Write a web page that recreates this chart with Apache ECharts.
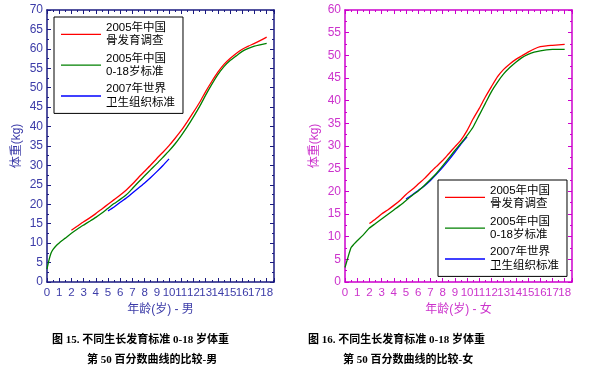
<!DOCTYPE html>
<html>
<head>
<meta charset="utf-8">
<script src="https://cdn.jsdelivr.net/npm/echarts@6/dist/echarts.min.js"></script>
<style>html,body{margin:0;padding:0;background:#fff;}#c{width:606px;height:373px;}</style>
</head>
<body>
<div id="c"></div>
<script>
// ---- Data ----
const seriesNames = ['2005年中国\n骨发育调查', '2005年中国\n0-18岁标准', '2007年世界\n卫生组织标准'];
const xTicks = [0,1,2,3,4,5,6,7,8,9,10,11,12,13,14,15,16,17,18];

// Boys
const boyStdAges = [0,0.167,0.333,0.5,0.75,1,1.25,1.5,1.75,2,2.5,3,3.5,4,4.5,5,5.5,6,6.5,7,7.5,8,8.5,9,9.5,10,10.5,11,11.5,12,12.5,13,13.5,14,14.5,15,15.5,16,16.5,17,18];
const boyStdVals = [3.32,5.68,7.45,8.41,9.33,10.05,10.68,11.29,11.93,12.54,13.64,14.65,15.63,16.64,17.75,18.98,20.18,21.26,22.45,24.06,25.72,27.33,28.91,30.46,32.09,33.74,35.58,37.69,39.98,42.49,45.13,48.08,50.85,53.37,55.43,56.98,58.19,59.35,60.12,60.68,61.40];
const boyBoneAges = [2,2.5,3,3.5,4,4.5,5,5.5,6,6.5,7,7.5,8,8.5,9,9.5,10,10.5,11,11.5,12,12.5,13,13.5,14,14.5,15,15.5,16,16.5,17,17.5,18];
const boyBoneVals = [13.3,14.4,15.5,16.5,17.6,18.8,20.0,21.2,22.4,23.7,25.2,26.9,28.5,30.1,31.8,33.4,35.1,37.0,39.0,41.3,43.7,46.2,49.0,51.6,54.0,56.0,57.5,58.8,59.9,60.7,61.4,62.2,63.0];
const boyWhoAges = [5,5.5,6,6.5,7,7.5,8,8.5,9,9.5,10];
const boyWhoVals = [18.3,19.3,20.5,21.6,22.9,24.2,25.5,26.9,28.4,30.0,31.7];

// Girls
const girlStdAges = [0,0.25,0.5,0.75,1,1.5,2,2.5,3,3.5,4,4.5,5,5.5,6,6.5,7,7.5,8,8.5,9,9.5,10,10.5,11,11.5,12,12.5,13,13.5,14,14.5,15,15.5,16,16.5,17,18];
const girlStdVals = [3.2,5.5,7.6,8.4,9.1,10.4,11.9,12.9,13.9,14.9,15.9,16.9,18.0,19.1,20.1,21.3,22.6,24.0,25.6,27.3,29.0,30.6,32.3,34.2,36.8,39.4,42.0,44.1,45.9,47.3,48.5,49.5,50.2,50.7,51.0,51.2,51.3,51.3];
const girlBoneAges = [2,2.5,3,3.5,4,4.5,5,5.5,6,6.5,7,7.5,8,8.5,9,9.5,10,10.5,11,11.5,12,12.5,13,13.5,14,14.5,15,15.5,16,16.5,17,17.5,18];
const girlBoneVals = [12.9,13.9,15.0,15.9,16.9,18.0,19.3,20.4,21.6,22.8,24.2,25.5,26.8,28.3,29.8,31.3,33.4,36.0,38.3,40.8,43.1,45.3,46.9,48.1,49.1,49.9,50.7,51.4,51.9,52.1,52.2,52.3,52.4];
const girlWhoAges = [5,5.5,6,6.5,7,7.5,8,8.5,9,9.5,10];
const girlWhoVals = [18.3,19.2,20.2,21.2,22.4,23.8,25.3,26.9,28.6,30.4,32.0];

const colors = ['#ff0000', '#008000', '#0000ff'];
const pairs = (a, v) => a.map((x, i) => [x, v[i]]);

const FONT = '"Liberation Sans", "Noto Sans CJK SC", sans-serif';

function xAxes(gi, lineColor, labelColor, name) {
  const base = {
    type: 'value', gridIndex: gi, min: 0, max: 18.6, interval: 1,
    splitLine: {show: false},
    axisLine: {show: true, onZero: false, lineStyle: {color: lineColor, width: 1.5}},
    axisTick: {show: true, inside: true, length: 4, lineStyle: {color: lineColor}},
    minorTick: {show: true, splitNumber: 2, length: 2, lineStyle: {color: lineColor}}
  };
  return [
    Object.assign({}, base, {
      position: 'bottom', name: name, nameLocation: 'middle', nameGap: 17,
      nameTextStyle: {color: labelColor, fontSize: 12, fontFamily: FONT},
      axisLabel: {color: labelColor, fontSize: 11.5, fontFamily: FONT, margin: 5,
        formatter: v => (Number.isInteger(v) && xTicks.indexOf(v) >= 0) ? String(v) : ''}
    }),
    Object.assign({}, base, {position: 'top', axisLabel: {show: false}})
  ];
}
function yAxes(gi, max, lineColor, labelColor) {
  const base = {
    type: 'value', gridIndex: gi, min: 0, max: max, interval: 5,
    splitLine: {show: false},
    axisLine: {show: true, onZero: false, lineStyle: {color: lineColor, width: 1.5}},
    axisTick: {show: true, inside: true, length: 4, lineStyle: {color: lineColor}},
    minorTick: {show: true, splitNumber: 2, length: 2, lineStyle: {color: lineColor}}
  };
  return [
    Object.assign({}, base, {
      position: 'left', name: '体重(kg)', nameLocation: 'middle', nameGap: 24, nameRotate: 90,
      nameTextStyle: {color: labelColor, fontSize: 12, fontFamily: FONT},
      axisLabel: {color: labelColor, fontSize: 12, fontFamily: FONT, margin: 4}
    }),
    Object.assign({}, base, {position: 'right', axisLabel: {show: false}})
  ];
}
function lineSeries(name, xi, yi, data, color) {
  return {
    name: name, type: 'line', xAxisIndex: xi, yAxisIndex: yi, data: data,
    showSymbol: false, symbol: 'none', smooth: 0.2, animation: false,
    lineStyle: {color: color, width: 1.3}, itemStyle: {color: color}
  };
}
function legend(left, top) {
  return {
    orient: 'vertical', left: left, top: top, data: seriesNames,
    selectedMode: false, icon: 'rect', itemWidth: 40, itemHeight: 1.3, itemGap: 4,
    borderColor: '#000', borderWidth: 1, padding: [4, 8, 4, 7],
    backgroundColor: '#fff',
    textStyle: {color: '#000', fontSize: 11.5, lineHeight: 13.4, fontFamily: FONT}
  };
}

const BLUE_LINE = '#1a1a80', BLUE_LABEL = '#3c3ca8';
const MAG_LINE = '#cc00cc', MAG_LABEL = '#cc33cc';

const option = {
  animation: false,
  grid: [
    {left: 47, top: 10, width: 227, height: 272},
    {left: 345, top: 10, width: 227, height: 272}
  ],
  xAxis: [].concat(xAxes(0, BLUE_LINE, BLUE_LABEL, '年龄(岁) - 男'), xAxes(1, MAG_LINE, MAG_LABEL, '年龄(岁) - 女')),
  yAxis: [].concat(yAxes(0, 70, BLUE_LINE, BLUE_LABEL), yAxes(1, 60, MAG_LINE, MAG_LABEL)),
  legend: [legend(54, 17), legend(438, 180)],
  series: [
    lineSeries(seriesNames[2], 0, 0, pairs(boyWhoAges, boyWhoVals), colors[2]),
    lineSeries(seriesNames[1], 0, 0, pairs(boyStdAges, boyStdVals), colors[1]),
    lineSeries(seriesNames[0], 0, 0, pairs(boyBoneAges, boyBoneVals), colors[0]),
    lineSeries(seriesNames[2], 2, 2, pairs(girlWhoAges, girlWhoVals), colors[2]),
    lineSeries(seriesNames[1], 2, 2, pairs(girlStdAges, girlStdVals), colors[1]),
    lineSeries(seriesNames[0], 2, 2, pairs(girlBoneAges, girlBoneVals), colors[0])
  ],
  graphic: [
    {type: 'text', left: 52, top: 335, style: {text: '图 15. 不同生长发育标准 0-18 岁体重', fill: '#000', font: 'bold 11px "Liberation Serif", "Noto Sans CJK SC", serif'}},
    {type: 'text', left: 87, top: 355, style: {text: '第 50 百分数曲线的比较-男', fill: '#000', font: 'bold 11px "Liberation Serif", "Noto Sans CJK SC", serif'}},
    {type: 'text', left: 308, top: 335, style: {text: '图 16. 不同生长发育标准 0-18 岁体重', fill: '#000', font: 'bold 11px "Liberation Serif", "Noto Sans CJK SC", serif'}},
    {type: 'text', left: 343, top: 355, style: {text: '第 50 百分数曲线的比较-女', fill: '#000', font: 'bold 11px "Liberation Serif", "Noto Sans CJK SC", serif'}}
  ]
};

const chart = echarts.init(document.getElementById('c'), null, {renderer: 'canvas'});
chart.setOption(option);
</script>
</body>
</html>
